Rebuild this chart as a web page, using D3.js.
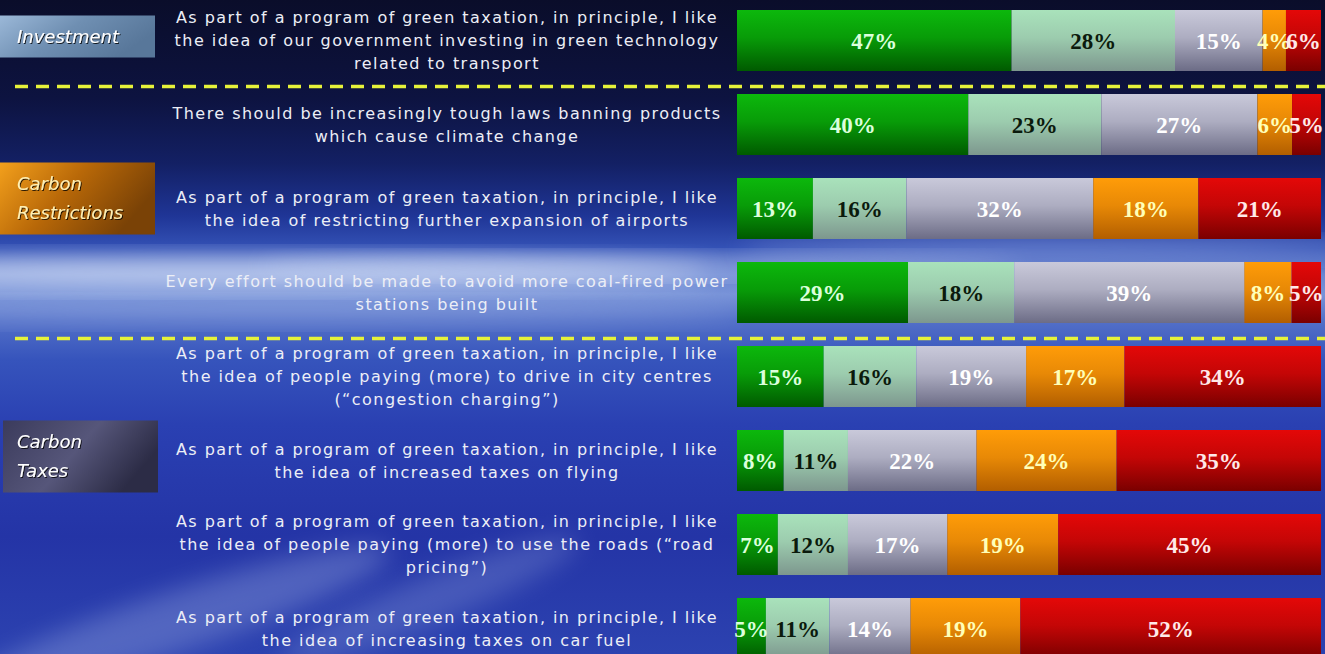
<!DOCTYPE html>
<html>
<head>
<meta charset="utf-8">
<script src="https://cdn.jsdelivr.net/npm/d3@7"></script>
<style>
  html, body { margin: 0; padding: 0; background: #0b0f2e; }
  svg { display: block; }
</style>
</head>
<body>
<svg id="chart" width="1325" height="654"></svg>
<script>
// ---------------- DATA ----------------
const questions = [
  "As part of a program of green taxation, in principle, I like\nthe idea of our government investing in green technology\nrelated to transport",
  "There should be increasingly tough laws banning products\nwhich cause climate change",
  "As part of a program of green taxation, in principle, I like\nthe idea of restricting further expansion of airports",
  "Every effort should be made to avoid more coal-fired power\nstations being built",
  "As part of a program of green taxation, in principle, I like\nthe idea of people paying (more) to drive in city centres\n(\u201Ccongestion charging\u201D)",
  "As part of a program of green taxation, in principle, I like\nthe idea of increased taxes on flying",
  "As part of a program of green taxation, in principle, I like\nthe idea of people paying (more) to use the roads (\u201Croad\npricing\u201D)",
  "As part of a program of green taxation, in principle, I like\nthe idea of increasing taxes on car fuel"
];
const responses = ["Strongly agree", "Agree", "Neither", "Disagree", "Strongly disagree"];
const stronglyAgree    = [47, 40, 13, 29, 15,  8,  7,  5];
const agree            = [28, 23, 16, 18, 16, 11, 12, 11];
const neither          = [15, 27, 32, 39, 19, 22, 17, 14];
const disagree         = [ 4,  6, 18,  8, 17, 24, 19, 19];
const stronglyDisagree = [ 6,  5, 21,  5, 34, 35, 45, 52];

const groups = ["Investment", "Carbon\nRestrictions", "Carbon\nTaxes"];
const groupStart = [0, 1, 4];   // first question index of each group
const groupEnd   = [0, 3, 7];   // last question index of each group
// -------------------------------------

const W = 1325, H = 654;
const svg = d3.select("#chart");
const defs = svg.append("defs");

// ---------- background ----------
const bg = defs.append("linearGradient").attr("id", "bg")
  .attr("x1", 0).attr("y1", 0).attr("x2", 0).attr("y2", 1);
[[0, "#0a0d2a"], [0.15, "#0d1340"], [0.25, "#132064"], [0.33, "#1f3596"],
 [0.38, "#3452b6"], [0.42, "#6a86d2"], [0.45, "#7893d8"], [0.49, "#5370c8"],
 [0.55, "#3654bc"], [0.65, "#2a40b2"], [0.82, "#2434a6"], [1, "#2c42b0"]]
  .forEach(([o, c]) => bg.append("stop").attr("offset", o).attr("stop-color", c));
svg.append("rect").attr("width", W).attr("height", H).attr("fill", "url(#bg)");

const blur = defs.append("filter").attr("id", "blur").attr("x", "-50%").attr("y", "-50%")
  .attr("width", "200%").attr("height", "200%");
blur.append("feGaussianBlur").attr("stdDeviation", 12);

const glow = svg.append("g");
glow.append("ellipse").attr("cx", 230).attr("cy", 272).attr("rx", 480).attr("ry", 14)
  .attr("fill", "#e6eefc").attr("opacity", 0.7).attr("filter", "url(#blur)");
glow.append("ellipse").attr("cx", 640).attr("cy", 266).attr("rx", 380).attr("ry", 9)
  .attr("fill", "#dbe5fa").attr("opacity", 0.45).attr("filter", "url(#blur)");
glow.append("ellipse").attr("cx", 1060).attr("cy", 250).attr("rx", 320).attr("ry", 9)
  .attr("fill", "#b7c6f0").attr("opacity", 0.5).attr("filter", "url(#blur)");
glow.append("ellipse").attr("cx", 280).attr("cy", 312).attr("rx", 460).attr("ry", 10)
  .attr("fill", "#b0c2ec").attr("opacity", 0.4).attr("filter", "url(#blur)");
// clouds lower left
glow.append("ellipse").attr("cx", 180).attr("cy", 620).attr("rx", 220).attr("ry", 30)
  .attr("fill", "#8fa0dc").attr("opacity", 0.4).attr("filter", "url(#blur)")
  .attr("transform", "rotate(-18 180 620)");
glow.append("ellipse").attr("cx", 430).attr("cy", 600).attr("rx", 160).attr("ry", 24)
  .attr("fill", "#8fa0dc").attr("opacity", 0.3).attr("filter", "url(#blur)")
  .attr("transform", "rotate(-22 430 600)");

// ---------- scales ----------
const n = questions.length;
const table = questions.map((q, i) => ({
  i, q,
  "Strongly agree": stronglyAgree[i], "Agree": agree[i], "Neither": neither[i],
  "Disagree": disagree[i], "Strongly disagree": stronglyDisagree[i]
}));
const stack = d3.stack().keys(responses).offset(d3.stackOffsetExpand);
const series = stack(table);

const x = d3.scaleLinear().domain([0, 1]).range([737, 1321]);
const y = d3.scaleBand().domain(d3.range(n)).range([-1.5, 670.5])
  .paddingInner(23 / 84).paddingOuter(23 / 168);

const colorTop = d3.scaleOrdinal().domain(responses)
  .range(["#0cb80c", "#a9e2bb", "#c9c9da", "#ff9c08", "#e40808"]);
const colorBot = d3.scaleOrdinal().domain(responses)
  .range(["#005a00", "#7d978e", "#6c6c86", "#b25e00", "#7a0000"]);
const labelColor = d3.scaleOrdinal().domain(responses)
  .range(["#dcffdc", "#0b1a0c", "#ffffff", "#ffffb8", "#ffe9e9"]);

responses.forEach((r, k) => {
  const g = defs.append("linearGradient").attr("id", "seg" + k)
    .attr("x1", 0).attr("y1", 0).attr("x2", 0).attr("y2", 1);
  g.append("stop").attr("offset", 0).attr("stop-color", colorTop(r));
  g.append("stop").attr("offset", 0.45).attr("stop-color", d3.interpolateRgb(colorTop(r), colorBot(r))(0.3));
  g.append("stop").attr("offset", 1).attr("stop-color", colorBot(r));
});

// ---------- bars ----------
const barG = svg.append("g");
series.forEach((s, k) => {
  barG.append("g").selectAll("rect").data(s).join("rect")
    .attr("x", d => x(d[0]))
    .attr("y", d => y(d.data.i))
    .attr("width", d => x(d[1]) - x(d[0]))
    .attr("height", y.bandwidth())
    .attr("fill", "url(#seg" + k + ")");
});
series.forEach((s, k) => {
  barG.append("g").selectAll("text").data(s).join("text")
    .attr("x", d => (x(d[0]) + x(d[1])) / 2)
    .attr("y", d => y(d.data.i) + y.bandwidth() / 2)
    .attr("dy", "0.36em")
    .attr("text-anchor", "middle")
    .attr("font-family", "'Liberation Serif', serif")
    .attr("font-weight", "bold")
    .attr("font-size", 23)
    .attr("fill", labelColor(s.key))
    .text(d => d.data[s.key] + "%");
});

// ---------- question labels ----------
const qG = svg.append("g");
table.forEach(d => {
  const lines = d.q.split("\n");
  const cy = y(d.i) + y.bandwidth() / 2;
  const lh = 23;
  const t = qG.append("text")
    .attr("text-anchor", "middle")
    .attr("font-family", "'DejaVu Sans', Verdana, sans-serif")
    .attr("font-size", 16)
    .attr("letter-spacing", 1.45)
    .attr("fill", "#eceef6");
  lines.forEach((ln, j) => {
    t.append("tspan").attr("x", 447)
      .attr("y", cy + (j - (lines.length - 1) / 2) * lh)
      .attr("dy", "0.35em").text(ln);
  });
});

// ---------- dashed separators ----------
[0, 3].forEach(qi => {
  const yy = (y(qi) + y.bandwidth() + y(qi + 1)) / 2 + 4;
  svg.append("line").attr("x1", 15).attr("x2", W).attr("y1", yy).attr("y2", yy)
    .attr("stroke", "#e6f23a").attr("stroke-width", 3.5)
    .attr("stroke-dasharray", "13 8");
});

// ---------- group boxes ----------
const boxFills = [
  [["#9bb8d8", 0], ["#6f8fb2", 0.5], ["#58779a", 1]],
  [["#f3a01c", 0], ["#b86808", 0.5], ["#7a4206", 1]],
  [["#3b3b5c", 0], ["#56567a", 0.55], ["#2c2c46", 1]]
];
const boxText = ["#ffffff", "#fff0b4", "#ffffff"];
boxFills.forEach((stops, k) => {
  const g = defs.append("linearGradient").attr("id", "box" + k)
    .attr("x1", 0).attr("y1", 0).attr("x2", 1).attr("y2", 0.4);
  stops.forEach(([c, o]) => g.append("stop").attr("offset", o).attr("stop-color", c));
});
const shadow = defs.append("filter").attr("id", "shadow");
shadow.append("feDropShadow").attr("dx", 1).attr("dy", 1).attr("stdDeviation", 0.6)
  .attr("flood-color", "#000").attr("flood-opacity", 0.8);

groups.forEach((gname, k) => {
  const lines = gname.split("\n");
  const boxH = lines.length === 1 ? 42 : 72;
  const mid = lines.length === 1
    ? y(groupStart[k]) + y.bandwidth() / 2 - 4
    : (k === 1 ? y(groupStart[k] + 1) + y.bandwidth() / 2 - 10
               : y(groupStart[k] + 1) + y.bandwidth() / 2 - 4);
  svg.append("rect").attr("x", k === 2 ? 3 : 0).attr("y", mid - boxH / 2)
    .attr("width", 155).attr("height", boxH)
    .attr("fill", "url(#box" + k + ")");
  const t = svg.append("text")
    .attr("font-family", "'DejaVu Sans', Verdana, sans-serif")
    .attr("font-style", "italic")
    .attr("font-size", 18)
    .attr("fill", boxText[k])
    .attr("filter", "url(#shadow)");
  lines.forEach((ln, j) => {
    t.append("tspan").attr("x", 17)
      .attr("y", mid + (j - (lines.length - 1) / 2) * 29)
      .attr("dy", "0.35em").text(ln);
  });
});
</script>
</body>
</html>
